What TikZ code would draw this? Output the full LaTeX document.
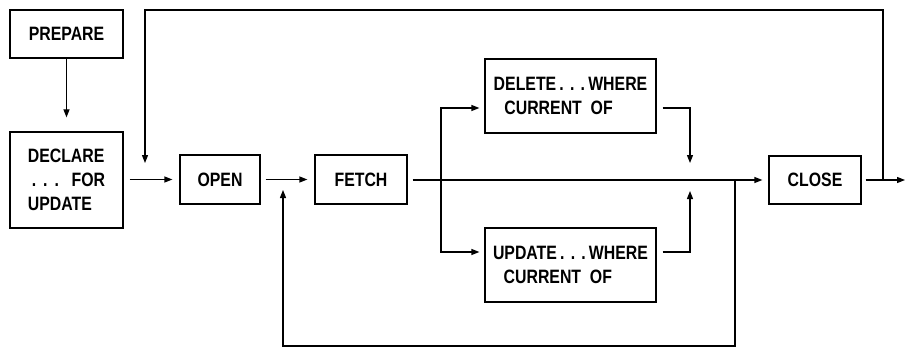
\documentclass[tikz,border=0pt]{standalone}
\usepackage{fontspec}
\setmainfont{Liberation Sans}[FakeStretch=0.82]
\usetikzlibrary{arrows.meta,calc}
\newcommand{\dotcell}{\makebox[8.5pt][l]{.}}
\newcommand{\dotmid}{\makebox[8pt]{.}}
\begin{document}
\begin{tikzpicture}[x=0.75pt,y=-0.75pt,
  line width=0.9pt,
  >={Triangle[length=6pt,width=4.5pt]},
  box/.style={draw,rectangle,inner sep=0pt,
    font=\fontsize{14.5}{18}\selectfont\bfseries},
  conn/.style={->}]
\useasboundingbox (0,0) rectangle (905,349);
\node[box,minimum width=113*0.75pt,minimum height=48*0.75pt] (prep) at (66.5,34) {PREPARE};
\node[box,minimum width=113*0.75pt,minimum height=96*0.75pt,align=left,text width=58pt] (decl) at (66.5,180)
  {DECLARE\\\hspace*{3pt}\dotcell\dotcell.\hfill FOR\\UPDATE};
\node[box,minimum width=80*0.75pt,minimum height=49*0.75pt] (open) at (220,179.5) {OPEN};
\node[box,minimum width=92*0.75pt,minimum height=49*0.75pt] (fetch) at (361,179.5) {FETCH};
\node[box,minimum width=171*0.75pt,minimum height=74*0.75pt,align=left] (del) at (570.5,96)
  {DELETE\dotmid\dotmid\dotmid WHERE\\\hspace*{8pt}CURRENT\ \ OF};
\node[box,minimum width=171*0.75pt,minimum height=74*0.75pt,align=left] (upd) at (570.5,265)
  {UPDATE\dotmid\dotmid\dotmid WHERE\\\hspace*{8pt}CURRENT\ \ OF};
\node[box,minimum width=92*0.75pt,minimum height=48*0.75pt] (close) at (815,180) {CLOSE};

\coordinate (j) at (883,180);
\coordinate (b) at (441,180);
\coordinate (k) at (735,180);
\coordinate (rend) at (905,180);

% PREPARE -> DECLARE
\draw[conn,shorten >=14pt*0.75] (prep) -- (decl);
% DECLARE -> OPEN
\draw[conn,shorten <=6*0.75pt,shorten >=7*0.75pt] (decl.east |- open) -- (open.west);
% OPEN -> FETCH
\draw[conn,shorten <=5*0.75pt,shorten >=7*0.75pt] (open.east) -- (fetch.west);
% FETCH -> CLOSE
\draw[conn,shorten <=5*0.75pt,shorten >=6*0.75pt] (fetch.east |- close) -- (close.west);
% branches
\draw[conn,shorten >=5*0.75pt] (b) |- ($(del.west)+(0,12)$);
\draw[conn,shorten >=5*0.75pt] (b) |- ($(upd.west)+(0,-13)$);
% DELETE / UPDATE outputs
\draw[conn] ($(del.east)+(6,12)$) -| (690,163);
\draw[conn] ($(upd.east)+(6,-13)$) -| (690,191);
% CLOSE output
\draw[conn,shorten <=4*0.75pt] (close.east) -- (rend);
% top loop
\draw[conn] (j) -- (883,10) -- (145,10) -- (145,163);
% bottom loop
\draw[conn] (k) -- (735,346) -- (283,346) -- (283,190);
\end{tikzpicture}
\end{document}
